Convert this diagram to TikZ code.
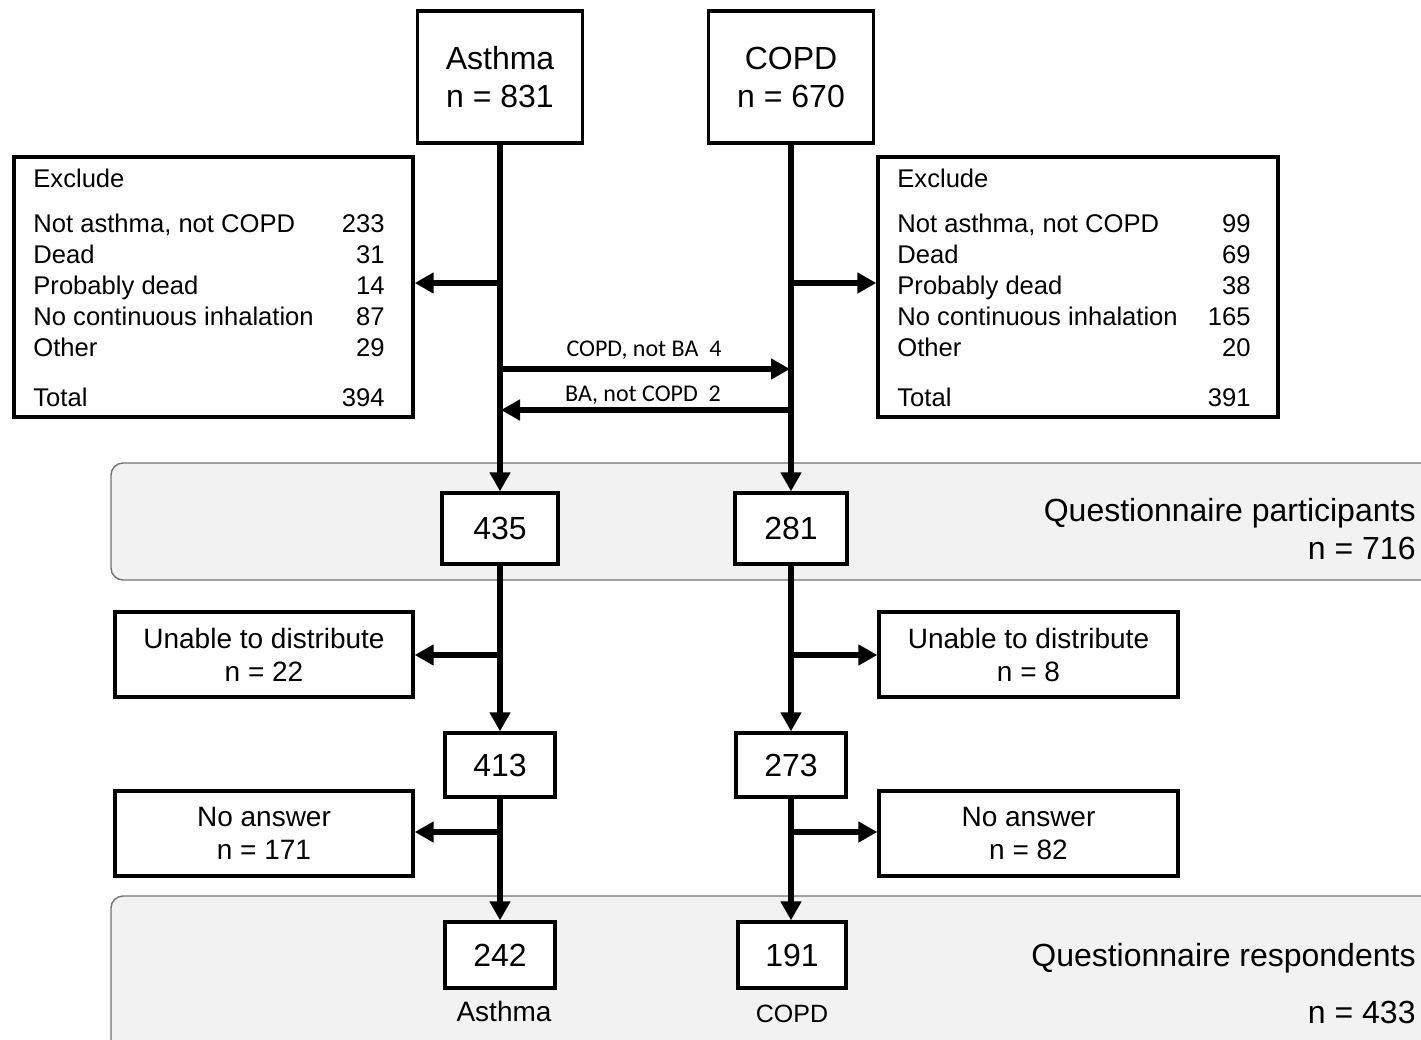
\documentclass[tikz,border=0pt]{standalone}
\usepackage{fontspec}
\setmainfont{Liberation Sans}
\newfontfamily\calib{Carlito}
\usetikzlibrary{arrows.meta}
\newdimen\px \px=0.5pt
\begin{document}
\begin{tikzpicture}[x=0.5pt,y=-0.5pt,
  box/.style={draw, line width=1.7pt, fill=white, inner sep=0pt, align=center},
  arr/.style={line width=2.9pt, -{Triangle[length=9.5pt,width=10pt]}},
  band/.style={draw=black!55, line width=0.7pt, fill=black!5, rounded corners=6pt},
  big/.style={font=\fontsize{16}{19}\selectfont},
  mid/.style={font=\fontsize{14}{16.5}\selectfont},
  ex/.style={font=\fontsize{12.8}{15}\selectfont, inner sep=0pt},
  small/.style={font=\calib\fontsize{12}{14}\selectfont, inner sep=0pt},
  bandtxt/.style={font=\fontsize{16}{19}\selectfont, inner sep=0pt, anchor=base east}
]
\clip (0,0) rectangle (1421,1040);
\fill[white] (0,0) rectangle (1421,1040);

% bands
\draw[band] (111,463) rectangle (1460,580);
\draw[band] (111,896) rectangle (1460,1080);
\node[bandtxt] (qp1) at (1416,521.5) {Questionnaire participants};
\node[bandtxt] (qp2) at (1416,559.5) {n = 716};
\node[bandtxt] (qr1) at (1416,966.5) {Questionnaire respondents};
\node[bandtxt] (qr2) at (1416,1023.5) {n = 433};

% top boxes
\node[box, big, minimum width=165\px, minimum height=132\px] (asth) at (500,77) {Asthma\\n = 831};
\node[box, big, minimum width=165\px, minimum height=132\px] (copd) at (791,77) {COPD\\n = 670};

% exclusion boxes
\node[box, minimum width=399\px, minimum height=260\px] (exL) at (213.5,287) {};
\node[box, minimum width=400\px, minimum height=260\px] (exR) at (1078,287) {};
\foreach \t/\v/\y [count=\i] in {Exclude//187, {Not asthma, not COPD}/233/232, Dead/31/263, {Probably dead}/14/294, {No continuous inhalation}/87/325, Other/29/356, Total/394/406}{
  \node[ex, anchor=base west] (exLt\i) at (33,\y) {\t};
  \node[ex, anchor=base east] (exLv\i) at (385,\y) {\v};
}
\foreach \t/\v/\y [count=\i] in {Exclude//187, {Not asthma, not COPD}/99/232, Dead/69/263, {Probably dead}/38/294, {No continuous inhalation}/165/325, Other/20/356, Total/391/406}{
  \node[ex, anchor=base west] (exRt\i) at (897,\y) {\t};
  \node[ex, anchor=base east] (exRv\i) at (1251,\y) {\v};
}

% number boxes
\node[box, big, minimum width=116\px, minimum height=71\px] (n435) at (500,528.5) {435};
\node[box, big, minimum width=112\px, minimum height=71\px] (n281) at (791,528.5) {281};
\node[box, big, minimum width=110\px, minimum height=64\px] (n413) at (500,765) {413};
\node[box, big, minimum width=110\px, minimum height=64\px] (n273) at (791,765) {273};
\node[box, big, minimum width=110\px, minimum height=66\px] (n242) at (500,955) {242};
\node[box, big, minimum width=108\px, minimum height=66\px] (n191) at (792,955) {191};

% side boxes
\node[box, mid, minimum width=298\px, minimum height=85\px] (unL) at (264,654.5) {Unable to distribute\\n = 22};
\node[box, mid, minimum width=299\px, minimum height=85\px] (unR) at (1028.5,654.5) {Unable to distribute\\n = 8};
\node[box, mid, minimum width=298\px, minimum height=85\px] (naL) at (264,833.5) {No answer\\n = 171};
\node[box, mid, minimum width=299\px, minimum height=85\px] (naR) at (1028.5,833.5) {No answer\\n = 82};

% bottom labels
\node[mid, inner sep=0pt] (labA) at (504,1011) {Asthma};
\node[font=\fontsize{12.5}{15}\selectfont, inner sep=0pt] (labC) at (792,1014) {COPD};

% main vertical arrows
\draw[arr] (asth.south) -- (n435.north);
\draw[arr] (copd.south) -- (n281.north);
\draw[arr] (n435.south) -- (n413.north);
\draw[arr] (n281.south) -- (n273.north);
\draw[arr] (n413.south) -- (n242.north);
\draw[arr] (n273.south) -- (n273.south |- n191.north);

% branch arrows
\coordinate (bL1) at (500,283);
\coordinate (bR1) at (791,283);
\draw[arr] (bL1) -- (exL.east |- bL1);
\draw[arr] (bR1) -- (exR.west |- bR1);
\coordinate (bL2) at (500,655);
\coordinate (bR2) at (791,655);
\draw[arr] (bL2) -- (unL.east |- bL2);
\draw[arr] (bR2) -- (unR.west |- bR2);
\coordinate (bL3) at (500,832);
\coordinate (bR3) at (791,832);
\draw[arr] (bL3) -- (naL.east |- bL3);
\draw[arr] (bR3) -- (naR.west |- bR3);

% cross arrows
\coordinate (c1a) at (500,369);
\coordinate (c1b) at (790,369);
\coordinate (c2a) at (793,410);
\coordinate (c2b) at (501,410);
\draw[arr] (c1a) -- (c1b);
\draw[arr] (c2a) -- (c2b);
\node[small] (lab1) at (644,350) {COPD, not BA\ \ 4};
\node[small] (lab2) at (643,395) {BA, not COPD\ \ 2};
\end{tikzpicture}
\end{document}
